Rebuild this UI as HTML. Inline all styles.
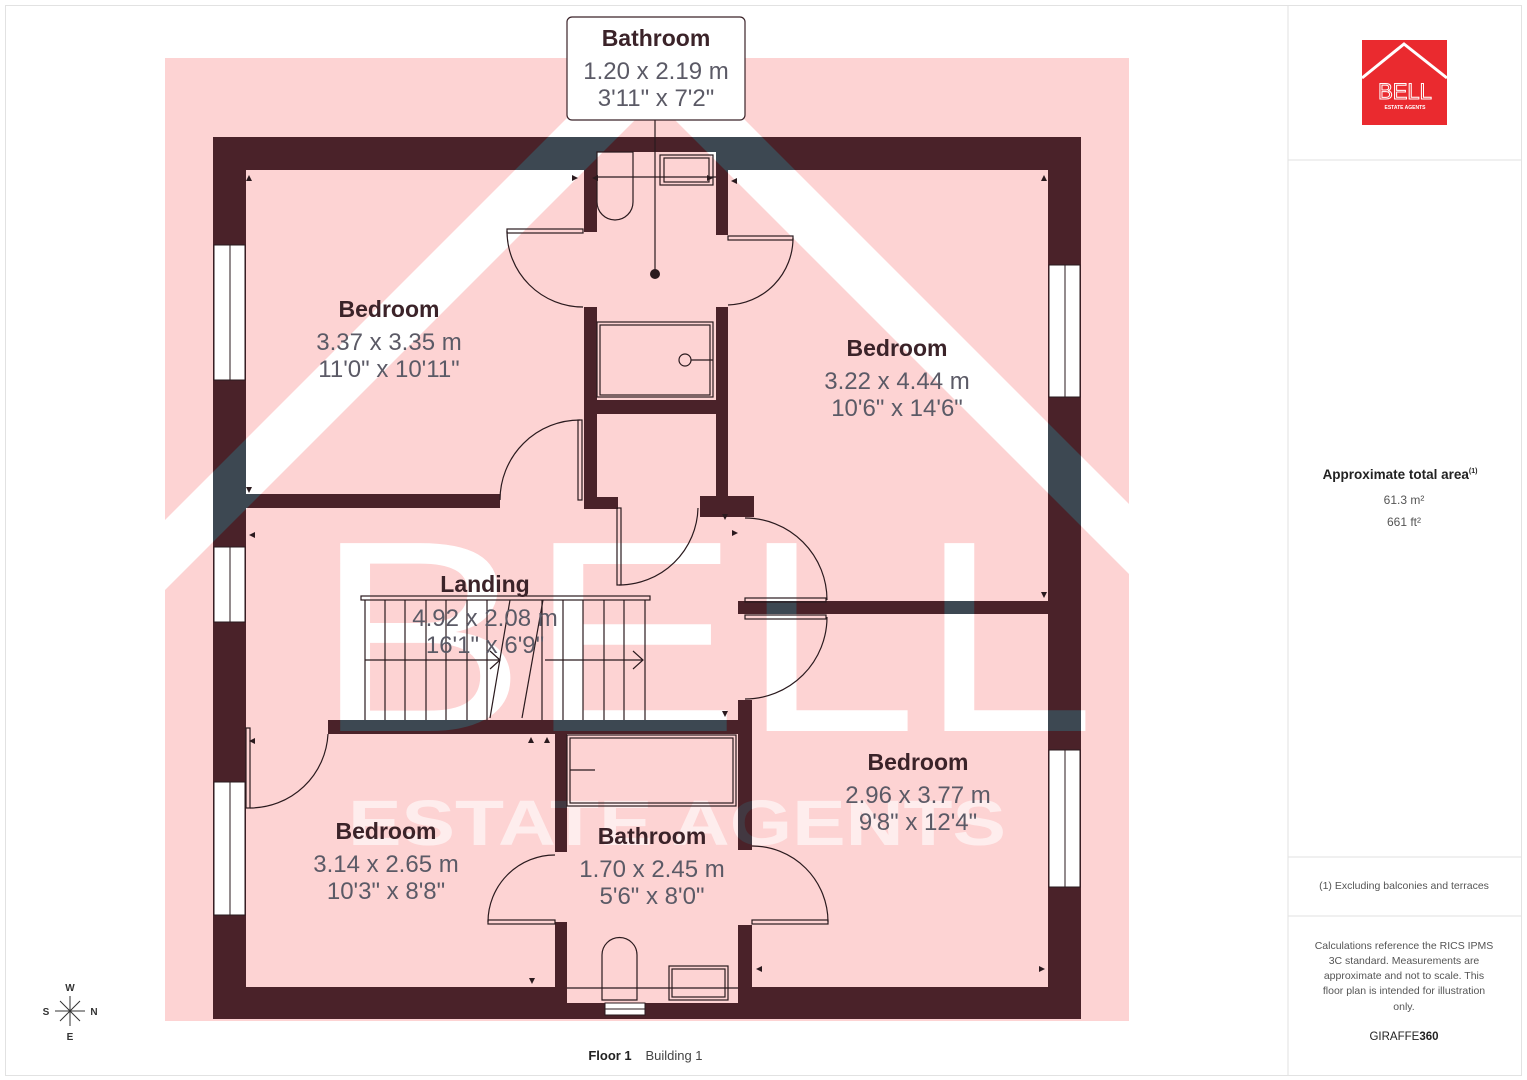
<!DOCTYPE html>
<html><head><meta charset="utf-8"><style>
html,body{margin:0;padding:0;background:#fff;width:1527px;height:1080px;overflow:hidden}
svg{display:block}
.rn{font-family:"Liberation Sans",sans-serif;font-weight:bold;font-size:23px;fill:#3b2329;text-anchor:middle}
.dm{font-family:"Liberation Sans",sans-serif;font-size:24px;fill:#5b5a66;text-anchor:middle}
.ln{fill:none;stroke:#2a1a1e;stroke-width:1.2}
.pt{font-family:"Liberation Sans",sans-serif;fill:#555;text-anchor:middle}
</style></head><body>
<svg width="1527" height="1080" viewBox="0 0 1527 1080" xmlns="http://www.w3.org/2000/svg">
<defs>
<clipPath id="wc">
<rect x="213" y="137" width="384" height="33"/>
<rect x="716" y="137" width="365" height="33"/>
<rect x="597" y="137" width="119" height="15"/>
<rect x="213" y="137" width="33" height="882"/>
<rect x="1048" y="137" width="33" height="882"/>
<rect x="213" y="987" width="354" height="32"/>
<rect x="738" y="987" width="343" height="32"/>
<rect x="555" y="1003" width="197" height="16"/>
<rect x="584" y="137" width="13" height="95"/>
<rect x="716" y="137" width="12" height="98"/>
<rect x="584" y="307" width="13" height="201"/>
<rect x="716" y="307" width="12" height="195"/>
<rect x="597" y="400" width="119" height="14"/>
<rect x="584" y="497" width="34" height="12"/>
<rect x="700" y="496" width="54" height="21"/>
<rect x="246" y="494" width="254" height="14"/>
<rect x="738" y="601" width="310" height="13"/>
<rect x="328" y="720" width="424" height="14"/>
<rect x="738" y="700" width="14" height="150"/>
<rect x="738" y="925" width="14" height="62"/>
<rect x="555" y="734" width="12" height="118"/>
<rect x="555" y="922" width="12" height="65"/>
</clipPath>
<clipPath id="pk"><rect x="165" y="58" width="964" height="963"/></clipPath>
<g id="wm" clip-path="url(#pk)">
<polygon points="165,520 655,30 1145,520 1145,590 655,100 165,590"/>
<text x="314" y="731" font-family="Liberation Sans,sans-serif" font-size="273" textLength="782" lengthAdjust="spacingAndGlyphs">BELL</text>
<text x="348" y="845" font-family="Liberation Sans,sans-serif" font-weight="bold" font-size="64" textLength="658" lengthAdjust="spacingAndGlyphs" opacity="0.6">ESTATE AGENTS</text>
</g>
</defs>
<rect x="5.5" y="5.5" width="1516" height="1070" fill="none" stroke="#e2e2e2"/>
<line x1="1288" y1="5" x2="1288" y2="1075" stroke="#e2e2e2"/>
<line x1="1288" y1="160" x2="1521" y2="160" stroke="#e2e2e2"/>
<line x1="1288" y1="857" x2="1521" y2="857" stroke="#e2e2e2"/>
<line x1="1288" y1="916" x2="1521" y2="916" stroke="#e2e2e2"/>

<rect x="165" y="58" width="964" height="963" fill="#fdd3d3"/>
<use href="#wm" fill="#fff"/>
<rect x="200" y="130" width="900" height="900" fill="#4a2229" clip-path="url(#wc)"/>
<g clip-path="url(#wc)"><use href="#wm" fill="#3d4852"/></g>
<g fill="#fff" stroke="#2a1a1e" stroke-width="1">
<rect x="214" y="245" width="31" height="135"/><line x1="230" y1="245" x2="230" y2="380"/>
<rect x="214" y="547" width="31" height="75"/><line x1="230" y1="547" x2="230" y2="622"/>
<rect x="214" y="782" width="31" height="133"/><line x1="230" y1="782" x2="230" y2="915"/>
<rect x="1049" y="265" width="31" height="132"/><line x1="1065" y1="265" x2="1065" y2="397"/>
<rect x="1049" y="750" width="31" height="137"/><line x1="1065" y1="750" x2="1065" y2="887"/>
<rect x="605" y="1003" width="40" height="12"/><line x1="605" y1="1009" x2="645" y2="1009"/>
</g>
<g class="ln">
<rect x="507" y="229" width="76" height="4"/><path d="M507,231 A76,76 0 0 0 583,307"/>
<rect x="728" y="236" width="65" height="4"/><path d="M793,238 A67,67 0 0 1 728,305"/>
<rect x="578" y="420" width="4" height="80"/><path d="M500,500 A80,80 0 0 1 580,420"/>
<rect x="617" y="508" width="4" height="77"/><path d="M619,585 A79,79 0 0 0 698,508"/>
<rect x="745" y="598" width="81" height="4"/><path d="M745,518 A82,82 0 0 1 827,600"/>
<rect x="745" y="615" width="81" height="4"/><path d="M827,617 A82,82 0 0 1 745,699"/>
<rect x="246" y="728" width="4" height="80"/><path d="M250,808 A78,78 0 0 0 328,734"/>
<rect x="488" y="920" width="67" height="4"/><path d="M488,922 A67,67 0 0 1 555,855"/>
<rect x="752" y="920" width="76" height="4"/><path d="M828,922 A76,76 0 0 0 752,846"/>
<path d="M597,152 L633,152 L633,202 A18,18 0 0 1 597,202 Z"/>
<rect x="660" y="155" width="53" height="30"/><rect x="664" y="158" width="45" height="24"/>
<line x1="597" y1="177" x2="716" y2="177"/>
<line x1="655" y1="120" x2="655" y2="274"/>
<rect x="597" y="322" width="116" height="75"/><rect x="600" y="325" width="110" height="70"/>
<circle cx="685" cy="360" r="6"/><line x1="691" y1="360" x2="713" y2="360"/>
<rect x="567" y="735" width="169" height="71"/><rect x="570" y="738" width="163" height="65"/>
<line x1="570" y1="770" x2="595" y2="770"/>
<path d="M602,1000 L602,955 A17.5,17.5 0 0 1 637,955 L637,1000 Z"/>
<rect x="669" y="966" width="59" height="34"/><rect x="672" y="969" width="53" height="28"/>
<line x1="567" y1="988" x2="738" y2="988"/>
<rect x="361" y="596" width="289" height="4"/>
<line x1="365" y1="600" x2="365" y2="720"/><line x1="385" y1="600" x2="385" y2="720"/>
<line x1="405" y1="600" x2="405" y2="720"/><line x1="426" y1="600" x2="426" y2="720"/>
<line x1="446" y1="600" x2="446" y2="720"/><line x1="467" y1="600" x2="467" y2="720"/>
<line x1="487" y1="600" x2="487" y2="720"/><line x1="542" y1="600" x2="542" y2="720"/>
<line x1="563" y1="600" x2="563" y2="720"/><line x1="583" y1="600" x2="583" y2="720"/>
<line x1="604" y1="600" x2="604" y2="720"/><line x1="624" y1="600" x2="624" y2="720"/>
<line x1="645" y1="600" x2="645" y2="720"/>
<line x1="490" y1="718" x2="510" y2="600"/><line x1="522" y1="718" x2="543" y2="600"/>
<line x1="365" y1="660" x2="500" y2="660"/><line x1="545" y1="660" x2="643" y2="660"/>
<polyline points="490,651 500,660 490,669"/><polyline points="633,651 643,660 633,669"/>
</g>
<g fill="#2a1a1e">
<path d="M249,175 l3,6 l-6,0z"/><path d="M578,178 l-6,-3 l0,6z"/><path d="M592,178 l6,-3 l0,6z"/>
<path d="M713,178 l-6,-3 l0,6z"/><path d="M731,181 l6,-3 l0,6z"/><path d="M1044,175 l3,6 l-6,0z"/>
<path d="M249,493 l3,-6 l-6,0z"/><path d="M1044,598 l3,-6 l-6,0z"/><path d="M249,535 l6,-3 l0,6z"/>
<path d="M725,520 l3,-6 l-6,0z"/><path d="M738,533 l-6,-3 l0,6z"/><path d="M725,717 l3,-6 l-6,0z"/>
<path d="M531,737 l3,6 l-6,0z"/><path d="M547,737 l3,6 l-6,0z"/><path d="M249,741 l6,-3 l0,6z"/>
<path d="M532,984 l3,-6 l-6,0z"/><path d="M756,969 l6,-3 l0,6z"/><path d="M1045,969 l-6,-3 l0,6z"/>
</g>
<circle cx="655" cy="274" r="5" fill="#2a1a1e"/>
<rect x="567" y="17" width="178" height="103" rx="5" fill="#fff" stroke="#3b2329" stroke-width="1.2"/>
<text class="rn" x="656" y="46" font-size="24">Bathroom</text>
<text class="dm" x="656" y="79">1.20 x 2.19 m</text>
<text class="dm" x="656" y="106">3'11" x 7'2"</text>
<text class="rn" x="389" y="317">Bedroom</text><text class="dm" x="389" y="350">3.37 x 3.35 m</text><text class="dm" x="389" y="377">11'0" x 10'11"</text>
<text class="rn" x="897" y="356">Bedroom</text><text class="dm" x="897" y="389">3.22 x 4.44 m</text><text class="dm" x="897" y="416">10'6" x 14'6"</text>
<text class="rn" x="485" y="592">Landing</text><text class="dm" x="485" y="626">4.92 x 2.08 m</text><text class="dm" x="485" y="653">16'1" x 6'9"</text>
<text class="rn" x="918" y="770">Bedroom</text><text class="dm" x="918" y="803">2.96 x 3.77 m</text><text class="dm" x="918" y="830">9'8" x 12'4"</text>
<text class="rn" x="386" y="839">Bedroom</text><text class="dm" x="386" y="872">3.14 x 2.65 m</text><text class="dm" x="386" y="899">10'3" x 8'8"</text>
<text class="rn" x="652" y="844">Bathroom</text><text class="dm" x="652" y="877">1.70 x 2.45 m</text><text class="dm" x="652" y="904">5'6" x 8'0"</text>
<g stroke="#333" stroke-width="1"><line x1="70" y1="996" x2="70" y2="1026"/><line x1="55" y1="1011" x2="85" y2="1011"/><line x1="60" y1="1001" x2="80" y2="1021"/><line x1="80" y1="1001" x2="60" y2="1021"/></g>
<g font-family="Liberation Sans,sans-serif" font-size="10" font-weight="bold" fill="#333" text-anchor="middle">
<text x="70" y="991">W</text><text x="46" y="1015">S</text><text x="94" y="1015">N</text><text x="70" y="1040">E</text></g>
<text x="610" y="1060" font-family="Liberation Sans,sans-serif" font-size="13" font-weight="bold" fill="#222" text-anchor="middle">Floor 1</text>
<text x="674" y="1060" font-family="Liberation Sans,sans-serif" font-size="13" fill="#444" text-anchor="middle">Building 1</text>
<rect x="1362" y="40" width="85" height="85" fill="#ea2a2f"/>
<polyline points="1362,78 1404,44 1447,78" fill="none" stroke="#fff" stroke-width="3"/>
<text x="1405" y="99" font-family="Liberation Sans,sans-serif" font-size="22" fill="none" stroke="#fff" stroke-width="1" text-anchor="middle">BELL</text>
<text x="1405" y="109" font-family="Liberation Sans,sans-serif" font-size="5" fill="#fff" text-anchor="middle" font-weight="bold">ESTATE AGENTS</text>
<text class="pt" x="1400" y="479" font-size="13.5" font-weight="bold" style="fill:#222">Approximate total area<tspan font-size="7" dy="-6">(1)</tspan></text>
<text class="pt" x="1404" y="504" font-size="12">61.3 m²</text>
<text class="pt" x="1404" y="526" font-size="12">661 ft²</text>
<text class="pt" x="1404" y="889" font-size="10.5">(1) Excluding balconies and terraces</text>
<g class="pt" font-size="10.5">
<text x="1404" y="949">Calculations reference the RICS IPMS</text>
<text x="1404" y="964">3C standard. Measurements are</text>
<text x="1404" y="979">approximate and not to scale. This</text>
<text x="1404" y="994">floor plan is intended for illustration</text>
<text x="1404" y="1010">only.</text>
</g>
<text x="1404" y="1040" font-family="Liberation Sans,sans-serif" font-size="11.5" fill="#222" text-anchor="middle">GIRAFFE<tspan font-weight="bold">360</tspan></text>
</svg>
</body></html>
